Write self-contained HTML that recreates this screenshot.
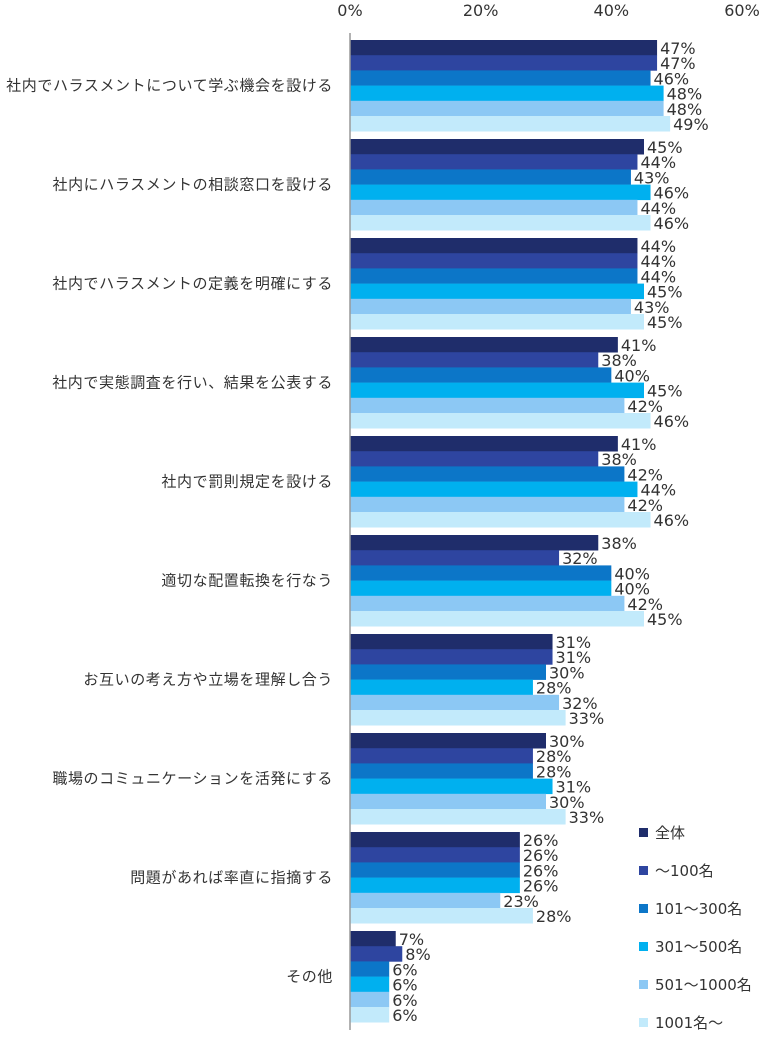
<!DOCTYPE html>
<html><head><meta charset="utf-8"><style>
body{margin:0;background:#fff;}
svg text{font-family:"DejaVu Sans","Noto Sans CJK JP",sans-serif;}
</style></head><body>
<svg id="c" width="768" height="1036"></svg>
<script>
const categories=["社内でハラスメントについて学ぶ機会を設ける","社内にハラスメントの相談窓口を設ける","社内でハラスメントの定義を明確にする","社内で実態調査を行い、結果を公表する","社内で罰則規定を設ける","適切な配置転換を行なう","お互いの考え方や立場を理解し合う","職場のコミュニケーションを活発にする","問題があれば率直に指摘する","その他"];
const seriesNames=["全体","～100名","101～300名","301～500名","501～1000名","1001名～"];
const s0=[47,45,44,41,41,38,31,30,26,7];
const s1=[47,44,44,38,38,32,31,28,26,8];
const s2=[46,43,44,40,42,40,30,28,26,6];
const s3=[48,46,45,45,44,40,28,31,26,6];
const s4=[48,44,43,42,42,42,32,30,23,6];
const s5=[49,46,45,46,46,45,33,33,28,6];
const ticks=[0,20,40,60];
const colors=["#1f2d6b","#2e45a0","#0c76c8","#00b0ef","#8cc8f4","#c2eafb"];
const series=[s0,s1,s2,s3,s4,s5];
const NS="http://www.w3.org/2000/svg";
const svg=document.getElementById('c');
const x=v=>350+v*(392/60);
const gy=i=>40+i*99;
const bh=15.2;
function mk(t,a,txt){const e=document.createElementNS(NS,t);for(const k in a)e.setAttribute(k,a[k]);if(txt!==undefined)e.textContent=txt;svg.appendChild(e);return e;}
ticks.forEach(t=>{const e=mk('text',{x:x(t),y:16,'text-anchor':'middle','font-size':16,fill:'#333'},t+'%');

});
categories.forEach((c,i)=>{
 const e=mk('text',{x:333,y:gy(i)+6*bh/2+5,'text-anchor':'end','font-size':15,'letter-spacing':'0.6',fill:'#333'},c);
 
 
 series.forEach((s,j)=>{
  const y=gy(i)+j*bh;
  const r=mk('rect',{x:350,y:y,width:x(s[i])-350,height:bh+0.3,fill:colors[j]});
  
  
  const l=mk('text',{x:x(s[i])+3,y:y+14,'font-size':16,fill:'#333'},s[i]+'%');
  
  
 });
});
const ax=mk('line',{x1:350,y1:33,x2:350,y2:1030,stroke:'#999','stroke-width':1.5});


seriesNames.forEach((n,j)=>{
 const y=832+j*38;
 const r=mk('rect',{x:639,y:y-4,width:9,height:9,fill:colors[j]});
 
 
 const t=mk('text',{x:655,y:y+6,'font-size':15,fill:'#333'},n);
 
 
});
</script>
</body></html>
